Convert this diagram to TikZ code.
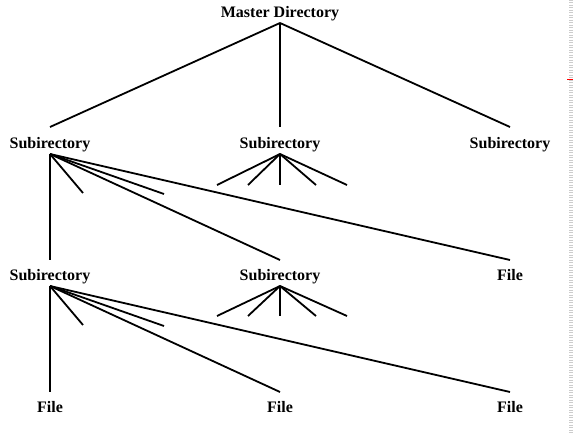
\documentclass[tikz,border=0pt]{standalone}
\usepackage{fontspec}
\setmainfont{Liberation Serif}
\begin{document}
\begin{tikzpicture}[x=1pt,y=-1pt,
  lbl/.style={font=\fontsize{16}{18}\selectfont\bfseries, inner sep=1.5pt, outer sep=0pt, text height=11pt, text depth=3.5pt, anchor=base},
  edge/.style={line width=1.8pt}]
\useasboundingbox (0,0) rectangle (573,435);
% nodes
\node[lbl] (m) at (280,18) {Master Directory};
\node[lbl] (a) at (50,149) {Subirectory};
\node[lbl] (b) at (280,149) {Subirectory};
\node[lbl] (c) at (510,149) {Subirectory};
\node[lbl] (d) at (50,281) {Subirectory};
\node[lbl] (e) at (280,281) {Subirectory};
\node[lbl] (f) at (510,281) {File};
\node[lbl] (g) at (50,413) {File};
\node[lbl] (h) at (280,413) {File};
\node[lbl] (i) at (510,413) {File};
% free ends
\coordinate (a1) at (83,193);
\coordinate (a2) at (164,194);
\coordinate (b1) at (217,185);
\coordinate (b2) at (248,185);
\coordinate (b3) at (280,185);
\coordinate (b4) at (316,185);
\coordinate (b5) at (347,185);
\coordinate (d1) at (83,325);
\coordinate (d2) at (164,326);
\coordinate (e1) at (217,316);
\coordinate (e2) at (248,316);
\coordinate (e3) at (280,316);
\coordinate (e4) at (316,316);
\coordinate (e5) at (347,316);
% connectors
\draw[edge] (m.south) -- ([yshift=9.5pt]a.north);
\draw[edge] (m.south) -- ([yshift=9.5pt]b.north);
\draw[edge] (m.south) -- ([yshift=9.5pt]c.north);
\draw[edge] (a.south) -- ([yshift=8.5pt]d.north);
\draw[edge] (a.south) -- (a1);
\draw[edge] (a.south) -- (a2);
\draw[edge] (a.south) -- ([yshift=8.5pt]e.north);
\draw[edge] (a.south) -- ([yshift=8.5pt]f.north);
\foreach \k in {b1,b2,b3,b4,b5} \draw[edge] (b.south) -- (\k);
\draw[edge] (d.south) -- ([yshift=8.5pt]g.north);
\draw[edge] (d.south) -- (d1);
\draw[edge] (d.south) -- (d2);
\draw[edge] (d.south) -- ([yshift=8.5pt]h.north);
\draw[edge] (d.south) -- ([yshift=8.5pt]i.north);
\foreach \k in {e1,e2,e3,e4,e5} \draw[edge] (e.south) -- (\k);
% page edge marks
\draw[black!20, line width=4pt, dash pattern=on 0.8pt off 1.7pt] (570.5,0) -- (570.5,435);
\draw[red, line width=1pt] (567,80) -- (573,80);
\end{tikzpicture}
\end{document}
